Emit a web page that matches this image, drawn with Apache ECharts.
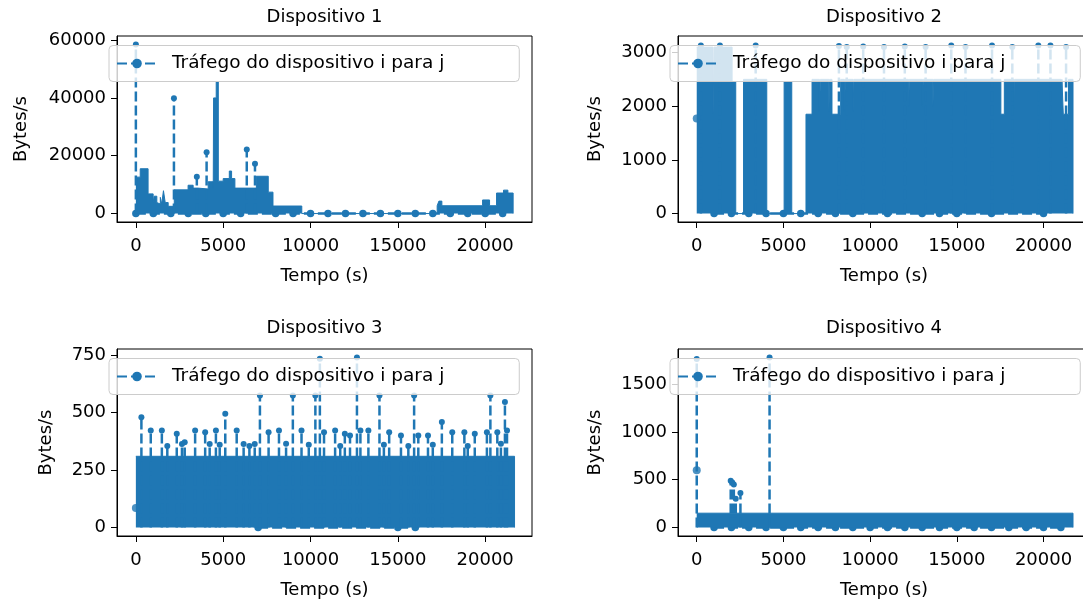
<!DOCTYPE html>
<html><head><meta charset="utf-8">
<script src="https://cdn.jsdelivr.net/npm/echarts@6/dist/echarts.min.js"></script>
<style>html,body{margin:0;padding:0;background:#fff}#c{width:1083px;height:604px}</style>
</head><body><div id="c"></div>
<script>
const NOME = 'Tráfego do dispositivo i para j';
const titulos = ['Dispositivo 1', 'Dispositivo 2', 'Dispositivo 3', 'Dispositivo 4'];
const ticksX = [0, 5000, 10000, 15000, 20000];
const ticksY1 = [0, 20000, 40000, 60000];
const ticksY2 = [0, 1000, 2000, 3000];
const ticksY3 = [0, 250, 500, 750];
const ticksY4 = [0, 500, 1000, 1500];

// Dispositivo 1: nível de tráfego (início do trecho, Bytes/s)
const faixa1 = [[0,12600],[250,15500],[700,6800],[990,3800],[1050,6000],[1200,3800],[1290,3300],[1400,5600],[1480,3300],[1580,7900],[1680,3800],[1850,2500],[2200,8200],[2990,9800],[3280,8800],[3560,8500],[4140,11000],[4430,8500],[4450,40000],[4600,45500],[4720,11200],[5000,12100],[5350,14700],[5480,12100],[5670,8800],[6900,12900],[7580,7400],[7850,2600],[9500,0],[17250,2700],[17350,4300],[17520,2700],[19850,4700],[20250,2700],[20650,7100],[21050,8100],[21300,7100],[21600,0]];
const picos1 = [[0,58500],[2180,39900],[3490,12700],[4050,21200],[6350,22200],[6820,17200]];
const zeros1 = [0,1000,2000,3000,4000,5000,6000,8000,9000,10000,11000,12000,13000,14000,15000,16000,17000,18000,19000,20000,21000];
const pontos1 = [];

// Dispositivo 2
const faixa2 = [[0,3100],[940,1860],[1000,3100],[2040,2450],[2250,0],[2700,2500],[4040,0],[5040,2450],[5480,0],[6300,1850],[6650,2500],[7080,1900],[7130,2500],[7620,1900],[7660,2500],[7800,1850],[8300,2500],[8520,1900],[8570,2500],[9020,1900],[9060,2500],[12220,2000],[12260,2500],[13020,2000],[13060,2500],[13620,2000],[13660,2500],[17540,1850],[17740,2500],[18320,1950],[18360,2500],[21020,1900],[21060,2500],[21140,1850],[21440,2500],[21700,0]];
const picos2 = [[240,3130],[1340,3130],[3400,3130],[8200,3120],[8650,3100],[9600,3110],[10800,3100],[12000,3110],[13200,3100],[14680,3130],[15500,3100],[17030,3130],[18200,3100],[19700,3130],[20400,3130],[21300,3100]];
const zeros2 = [1000,2000,3000,4000,5000,6000,7000,8000,9000,11000,13000,14000,15000,17000,20000];
const pontos2 = [[0,1770]];

// Dispositivo 3
const faixa3 = [[0,310],[21680,0]];
const picos3 = [[317,480],[853,422],[1488,422],[1800,355],[2341,408],[2639,364],[2797,371],[3393,422],[3968,415],[4226,364],[4583,422],[4800,360],[5119,495],[5773,422],[6170,364],[6500,355],[6805,364],[7103,575],[7599,415],[8194,422],[8600,365],[8988,575],[9484,422],[9900,360],[10277,575],[10535,735],[10773,415],[11408,422],[11700,355],[11964,408],[12261,400],[12658,740],[12856,422],[13313,422],[13947,575],[14200,360],[14503,415],[15178,400],[15600,355],[15931,575],[16170,400],[16725,400],[17000,360],[17519,459],[18114,415],[18808,415],[19000,355],[19404,408],[20098,415],[20297,575],[20694,415],[20900,365],[21130,546],[21249,422]];
const zeros3 = [7000,15000,16000];
const pontos3 = [[0,85]];

// Dispositivo 4
const faixa4 = [[0,150],[21700,0]];
const picos4 = [[0,1765],[1960,490],[2050,470],[2140,450],[2250,300],[2520,360],[4200,1780]];
const zeros4 = [1000,2000,3000,4000,5000,6000,7000,8000,9000,10000,11000,12000,13000,14000,15000,16000,17000,18000,19000,20000,21000];
const pontos4 = [[0,600]];

const AZUL = '#1f77b4';
const FONTE = 'DejaVu Sans';
const grades = [
  {left:117, top:36, width:415, height:186},
  {left:678, top:36, width:412, height:186},
  {left:117, top:349, width:415, height:187},
  {left:678, top:349, width:412, height:187}
];
const eixosY = [
  {min:-2925, max:61425, ticks:ticksY1, gap:87},
  {min:-157, max:3307, ticks:ticksY2, gap:74},
  {min:-37, max:777, ticks:ticksY3, gap:62},
  {min:-89, max:1869, ticks:ticksY4, gap:74}
];
const paineis = [
  [faixa1, picos1, zeros1, pontos1],
  [faixa2, picos2, zeros2, pontos2],
  [faixa3, picos3, zeros3, pontos3],
  [faixa4, picos4, zeros4, pontos4]
];

const series = [];
paineis.forEach((p, i) => {
  const [faixa, picos, zeros, pontos] = p;
  series.push({
    type:'line', xAxisIndex:i, yAxisIndex:i, data: zeros.map(t => [t, 0]),
    symbol:'circle', symbolSize:7.5, showAllSymbol:true, z:1,
    lineStyle:{color:AZUL, width:2.5, type:[10,4]}, itemStyle:{color:AZUL}, silent:true
  });
  series.push({
    type:'line', xAxisIndex:i, yAxisIndex:i, data: faixa, step:'end', symbol:'none', z:2,
    lineStyle:{color:AZUL, width:1}, areaStyle:{color:AZUL, opacity:1}, silent:true
  });
  const d = [];
  picos.forEach(q => {
    d.push([q[0], 0]);
    d.push([q[0], q[1]]);
    d.push([q[0], '-']);
  });
  series.push({
    name: NOME, type:'line', xAxisIndex:i, yAxisIndex:i, data: d, z:3, connectNulls:false,
    symbol:'circle', symbolSize: v => (v[1] === 0 ? 0 : 6), showAllSymbol:true,
    lineStyle:{color:AZUL, width:2.5, type:[10,4]}, itemStyle:{color:AZUL}, silent:true
  });
  if (pontos.length) series.push({
    type:'scatter', xAxisIndex:i, yAxisIndex:i, data: pontos, symbolSize:8, z:4,
    itemStyle:{color:AZUL}, silent:true
  });
});

const txt = {fontFamily:FONTE, color:'#000'};
const option = {
  animation:false,
  backgroundColor:'#fff',
  title: grades.map((g, i) => ({
    text: titulos[i], left: g.left + g.width/2, top: i < 2 ? 8 : 319, textAlign:'center', padding:0,
    textStyle: Object.assign({fontSize:18, fontWeight:'normal'}, txt)
  })),
  legend: grades.map((g, i) => ({
    data:[NOME], left: g.left - 8, top: g.top + 9.5, orient:'horizontal',
    itemWidth:40, itemHeight:12, padding:[7,75,7,7], selectedMode:false,
    backgroundColor:'rgba(255,255,255,0.8)', borderColor:'#cccccc', borderWidth:1, borderRadius:4,
    textStyle: Object.assign({fontSize:18.5, lineHeight:22, padding:[0,0,0,10]}, txt), z:10
  })),
  grid: grades.map(g => Object.assign({show:true, borderColor:'#000', borderWidth:1, backgroundColor:'transparent', outerBoundsMode:'none', containLabel:false}, g)),
  xAxis: grades.map((g, i) => ({
    type:'value', gridIndex:i, min:-1080, max:22680,
    name:'Tempo (s)', nameLocation:'middle', nameGap:45,
    nameTextStyle: Object.assign({fontSize:18}, txt),
    axisLine:{show:true, onZero:false, lineStyle:{color:'#000', width:1}},
    axisTick:{show:true, length:6, customValues:ticksX, lineStyle:{color:'#000', width:1}},
    axisLabel: Object.assign({customValues:ticksX, fontSize:18, margin:15, formatter: v => String(v)}, txt),
    splitLine:{show:false}
  })),
  yAxis: eixosY.map((e, i) => ({
    type:'value', gridIndex:i, min:e.min, max:e.max,
    name:'Bytes/s', nameLocation:'middle', nameGap:e.gap,
    nameTextStyle: Object.assign({fontSize:18}, txt),
    axisLine:{show:true, onZero:false, lineStyle:{color:'#000', width:1}},
    axisTick:{show:true, length:6, customValues:e.ticks, lineStyle:{color:'#000', width:1}},
    axisLabel: Object.assign({customValues:e.ticks, fontSize:18, margin:11, formatter: v => String(v)}, txt),
    splitLine:{show:false}
  })),
  series: series
};
const chart = echarts.init(document.getElementById('c'), null, {renderer:'canvas'});
chart.setOption(option);
</script>
</body></html>
